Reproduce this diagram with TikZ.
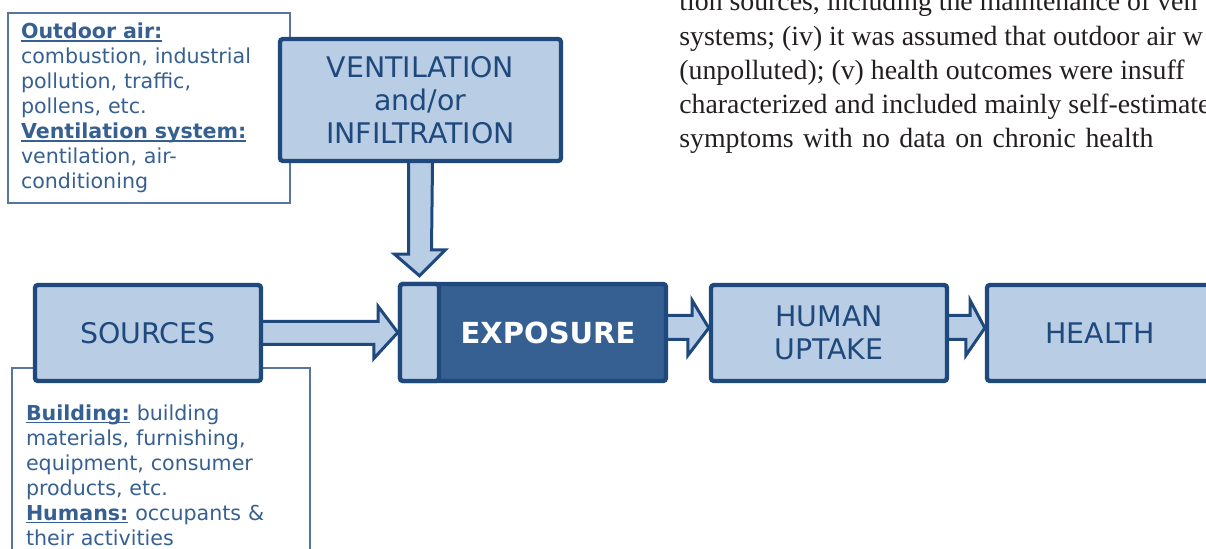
\documentclass[tikz,border=0pt]{standalone}
\usepackage{fontspec}
\setmainfont{Liberation Serif}
\newfontfamily\diafont{DejaVu Sans}
\usetikzlibrary{calc}
\usetikzlibrary{backgrounds}
\usepackage{xcolor}

\definecolor{boxline}{HTML}{1F497D}
\definecolor{boxfill}{HTML}{B9CDE5}
\definecolor{expfill}{HTML}{376092}
\definecolor{notetext}{HTML}{366092}
\definecolor{pagetext}{HTML}{231F20}

% bold heading with a close underline
\newcommand{\ulhead}[1]{\leavevmode\setbox0\hbox{\textbf{#1}}\rlap{\rule[-1.6pt]{\wd0}{0.7pt}}\box0\relax}

\tikzset{
  bigbox/.style={draw=boxline, fill=boxfill, line width=2.2pt, rounded corners=1.5pt, text=boxline, font=\diafont\fontsize{14.2}{16.5}\selectfont, align=center, inner sep=0},
  notebox/.style={draw=boxline!75, fill=white, line width=0.7pt, text=notetext, font=\diafont\fontsize{10.3}{12.5}\selectfont, align=left, inner ysep=0},
  blockarrow/.style={draw=boxline, fill=boxfill, line width=1.5pt, line join=miter},
  pageline/.style={anchor=base west, inner sep=0, text=pagetext, font=\fontsize{13.9}{17}\selectfont},
}

\begin{document}
\begin{tikzpicture}[x=0.5pt, y=-0.5pt]
\useasboundingbox (0,0) rectangle (1206,549);
\clip (0,0) rectangle (1206,549);

% text of the page behind
\node[pageline] (p1) at (679,11) {tion sources, including the maintenance of ven};
\node[pageline] (p2) at (679,45.5) {systems; (iv) it was assumed that outdoor air w};
\node[pageline] (p3) at (679,79.5) {(unpolluted); (v) health outcomes were insuff};
\node[pageline] (p4) at (679,113.5) {characterized and included mainly self-estimate};
\node[pageline] (p5) at (679,147.5) {\makebox[237pt][s]{symptoms with no data on chronic health}};

% notes
\node[notebox, minimum width=141pt, minimum height=95pt, inner xsep=6.5pt, text width=128pt] (outdoor) at (149,108)
  {\ulhead{Outdoor air:}\\combustion, industrial\\pollution, traffic,\\pollens, etc.\\\ulhead{Ventilation system:}\\ventilation, air-\\conditioning};
\node[notebox, minimum width=149pt, minimum height=107pt, inner xsep=7pt, text width=135pt] (building) at (161,475)
  {\ulhead{Building:} building\\materials, furnishing,\\equipment, consumer\\products, etc.\\\ulhead{Humans:} occupants \&\\their activities};

% main chain
\node[bigbox, minimum width=140.5pt, minimum height=61pt] (vent) at (420.5,100) {VENTILATION\\and/or\\INFILTRATION};
\node[bigbox, minimum width=113pt, minimum height=48pt] (src) at (148,333) {SOURCES};
\node[bigbox, fill=expfill, minimum width=133pt, minimum height=48.5pt] (exp) at (533,332.5) {};
\node[bigbox, minimum width=19.5pt, minimum height=48.5pt] (strip) at (419.5,332.5) {};
\node[text=white, font=\diafont\bfseries\fontsize{14.5}{16}\selectfont, inner sep=0] (explabel) at ($(exp.center)+(15,0)$) {EXPOSURE};
\node[bigbox, minimum width=118pt, minimum height=48pt] (hum) at (829,333) {HUMAN\\UPTAKE};
\node[bigbox, minimum width=113pt, minimum height=48pt] (hea) at (1100,333) {HEALTH};

\begin{scope}[on background layer]
\draw[blockarrow] ($(vent.south)+(-12,0)$) -- ++(0,91) -- ++(-14,0) -- ($(strip.north)+(0,-6)$) -- ++(26,-26) -- ++(-14,0) -- ($(vent.south)+(12,0)$);
\draw[blockarrow] ($(src.east)+(0,-11.5)$) -- ++(115,0) -- ++(0,-15) -- (strip.west) -- ++(-24,26) -- ++(0,-14) -- ($(src.east)+(0,11.5)$);
\draw[blockarrow] ($(exp.east)+(0,-17)$) -- ++(24,0) -- ++(0,-15) -- ($(hum.west)+(0,-5)$) -- ++(-21,27.5) -- ++(0,-16) -- ($(exp.east)+(0,7)$);
\draw[blockarrow] ($(hum.east)+(0,-17.5)$) -- ++(21,0) -- ++(0,-15) -- ($(hea.west)+(0,-5)$) -- ++(-19,27.5) -- ++(0,-16) -- ($(hum.east)+(0,6.5)$);
\end{scope}

\end{tikzpicture}
\end{document}
